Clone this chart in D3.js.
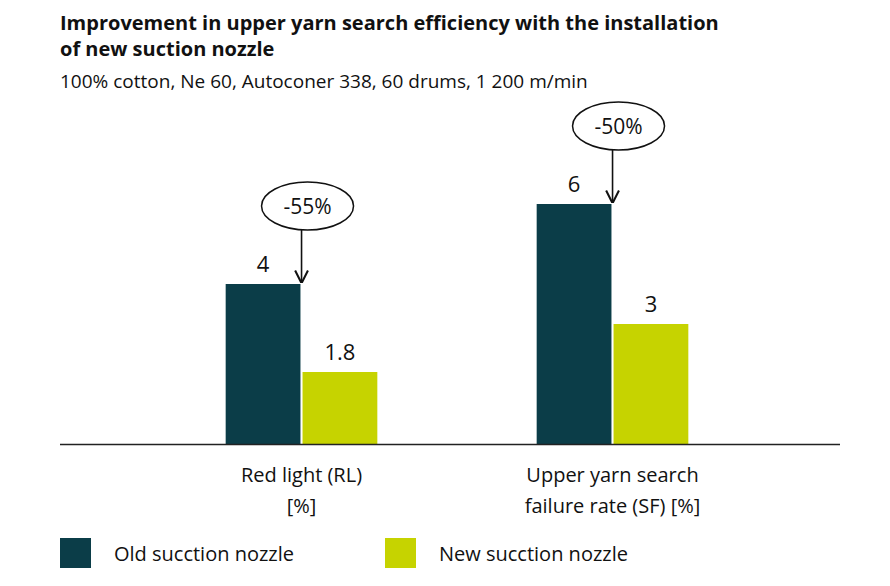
<!DOCTYPE html>
<html><head><meta charset="utf-8">
<script src="https://cdn.jsdelivr.net/npm/d3@7"></script>
<style>body{margin:0;background:#fff}text{font-family:"Open Sans",sans-serif;fill:#111}</style>
</head><body><svg id="c" width="890" height="586"></svg>
<script>
const categories = [["Red light (RL)", "[%]"], ["Upper yarn search", "failure rate (SF) [%]"]];
const seriesNames = ["Old sucction nozzle", "New sucction nozzle"];
const oldValues = [4, 6];
const newValues = [1.8, 3];
const valueLabels = [["4", "1.8"], ["6", "3"]];
const changeLabels = ["-55%", "-50%"];
const colors = ["#0b3d48", "#c6d300"];

const svg = d3.select('#c');
svg.append('text').attr('x', 60).attr('y', 30).style('font-weight', 'bold').style('font-size', '20px')
    .text('Improvement in upper yarn search efficiency with the installation');
svg.append('text').attr('x', 60).attr('y', 56).style('font-weight', 'bold').style('font-size', '20px')
    .text('of new suction nozzle');
svg.append('text').attr('x', 60).attr('y', 88).style('font-size', '19px')
    .text('100% cotton, Ne 60, Autoconer 338, 60 drums, 1 200 m/min');

const y = d3.scaleLinear().domain([0, 6]).range([444, 204]);
const x0 = d3.scaleBand().domain([0, 1]).range([146, 768]).paddingInner(0.5).paddingOuter(0.25);
const x1 = d3.scaleBand().domain([0, 1]).range([0, x0.bandwidth()]).paddingInner(0.027).paddingOuter(0.025);

const data = [0, 1].map(i => [oldValues[i], newValues[i]]);
const g = svg.selectAll('.grp').data(data).join('g').attr('transform', (d, i) => `translate(${x0(i)},0)`);
g.selectAll('rect').data(d => d).join('rect')
    .attr('x', (d, j) => x1(j)).attr('width', x1.bandwidth())
    .attr('y', d => y(d)).attr('height', d => y(0) - y(d)).attr('fill', (d, j) => colors[j]);
g.selectAll('.val').data((d, i) => d.map((v, j) => [v, valueLabels[i][j]])).join('text')
    .attr('x', (d, j) => x1(j) + x1.bandwidth() / 2).attr('y', d => y(d[0]) - 12)
    .attr('text-anchor', 'middle').style('font-size', '22px').text(d => d[1]);

svg.append('line').attr('x1', 60).attr('x2', 840).attr('y1', 444.5).attr('y2', 444.5).attr('stroke', '#222').attr('stroke-width', 1.5);

categories.forEach((c, i) => {
    const cx = x0(i) + x0.bandwidth() / 2;
    c.forEach((t, k) => svg.append('text').attr('x', cx).attr('y', 482 + k * 31)
        .attr('text-anchor', 'middle').style('font-size', '20px').text(t));
});

svg.append('defs').append('marker').attr('id', 'ah').attr('viewBox', '0 0 10 10').attr('refX', 9).attr('refY', 5)
    .attr('markerWidth', 8).attr('markerHeight', 10).attr('orient', 'auto')
    .append('path').attr('d', 'M0,0 L10,5 L0,10').attr('fill', 'none').attr('stroke', '#111').attr('stroke-width', 1.6);

changeLabels.forEach((t, i) => {
    const ax = x0(i) + x1(1) - 1;
    const top = y(oldValues[i]);
    const cy = top - 78;
    svg.append('ellipse').attr('cx', ax + 6).attr('cy', cy).attr('rx', 46).attr('ry', 24)
        .attr('fill', '#fff').attr('stroke', '#111').attr('stroke-width', 1.5);
    svg.append('text').attr('x', ax + 6).attr('y', cy + 8).attr('text-anchor', 'middle').style('font-size', '21px').text(t);
    svg.append('line').attr('x1', ax).attr('x2', ax).attr('y1', cy + 24).attr('y2', top - 2)
        .attr('stroke', '#111').attr('stroke-width', 1.6).attr('marker-end', 'url(#ah)');
});

const lx = [60, 385];
seriesNames.forEach((s, j) => {
    svg.append('rect').attr('x', lx[j]).attr('y', 538).attr('width', 31).attr('height', 30).attr('fill', colors[j]);
    svg.append('text').attr('x', lx[j] + 54).attr('y', 561).style('font-size', '20px').text(s);
});
</script></body></html>
